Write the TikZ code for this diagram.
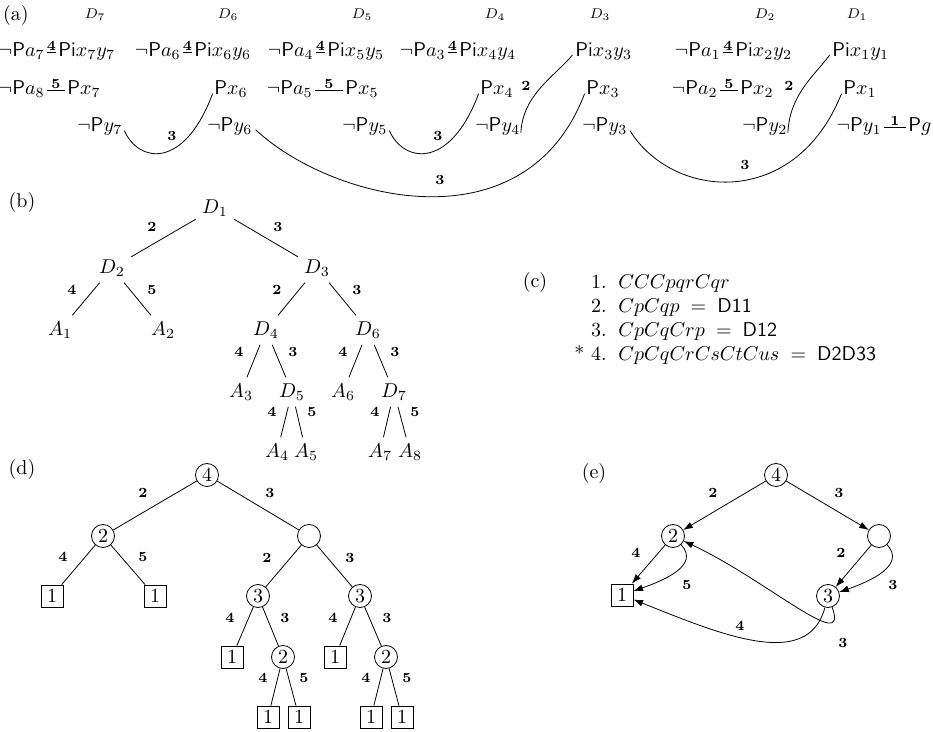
\documentclass[tikz,border=0pt]{standalone}
\usetikzlibrary{arrows.meta}
\begin{document}
\begin{tikzpicture}[x=0.5pt,y=-0.5pt,
  lit/.style={inner sep=0pt, text height=1.6ex, text depth=0.55ex},
  elab/.style={font=\scriptsize\bfseries, inner sep=0.5pt},
  dlab/.style={font=\scriptsize, inner sep=0pt},
  partlab/.style={font=\normalsize, inner sep=0pt},
  tn/.style={inner sep=3pt},
  cn/.style={circle, draw, minimum size=11.5pt, inner sep=0pt},
  bn/.style={draw, minimum size=11pt, inner sep=0pt},
  link/.style={shorten <=1pt, shorten >=1pt},
  curv/.style={shorten <=2pt, shorten >=2pt},
  arr/.style={-{Latex[length=4.8pt,width=3.4pt]}},
  item/.style={inner sep=0pt}
]
\useasboundingbox (0,0) rectangle (933,732);

% ---------------- (a) ----------------
\node[partlab] (la) at (16,16) {(a)};
\node[dlab] (dd7) at (95,15) {$D_7$};
\node[dlab] (dd6) at (228,15) {$D_6$};
\node[dlab] (dd5) at (362,15) {$D_5$};
\node[dlab] (dd4) at (495,15) {$D_4$};
\node[dlab] (dd3) at (600,15) {$D_3$};
\node[dlab] (dd2) at (765,15) {$D_2$};
\node[dlab] (dd1) at (857,15) {$D_1$};

% row 1
\node[lit,anchor=east] (na7) at (45,52) {$\neg\mathsf{P}a_7$};
\node[lit,anchor=west] (pi7) at (58,52) {$\mathsf{Pi}x_7y_7$};
\node[lit,anchor=east] (na6) at (181,52) {$\neg\mathsf{P}a_6$};
\node[lit,anchor=west] (pi6) at (194,52) {$\mathsf{Pi}x_6y_6$};
\node[lit,anchor=east] (na4) at (314,52) {$\neg\mathsf{P}a_4$};
\node[lit,anchor=west] (pi5) at (327,52) {$\mathsf{Pi}x_5y_5$};
\node[lit,anchor=east] (na3) at (446,52) {$\neg\mathsf{P}a_3$};
\node[lit,anchor=west] (pi4) at (459,52) {$\mathsf{Pi}x_4y_4$};
\node[lit,anchor=west] (pi3) at (575,52) {$\mathsf{Pi}x_3y_3$};
\node[lit,anchor=east] (na1) at (721,52) {$\neg\mathsf{P}a_1$};
\node[lit,anchor=west] (pi2) at (735,52) {$\mathsf{Pi}x_2y_2$};
\node[lit,anchor=west] (pi1) at (832,52) {$\mathsf{Pi}x_1y_1$};
\draw[link] (na7) -- node[elab,above] {4} (pi7);
\draw[link] (na6) -- node[elab,above] {4} (pi6);
\draw[link] (na4) -- node[elab,above] {4} (pi5);
\draw[link] (na3) -- node[elab,above] {4} (pi4);
\draw[link] (na1) -- node[elab,above] {4} (pi2);

% row 2
\node[lit,anchor=east] (na8) at (45,90) {$\neg\mathsf{P}a_8$};
\node[lit,anchor=west] (px7) at (67,90) {$\mathsf{P}x_7$};
\node[lit,anchor=west] (px6) at (214,90) {$\mathsf{P}x_6$};
\node[lit,anchor=east] (na5) at (313,90) {$\neg\mathsf{P}a_5$};
\node[lit,anchor=west] (px5) at (345,90) {$\mathsf{P}x_5$};
\node[lit,anchor=west] (px4) at (480,90) {$\mathsf{P}x_4$};
\node[lit,anchor=west] (px3) at (586,90) {$\mathsf{P}x_3$};
\node[lit,anchor=east] (na2) at (718,90) {$\neg\mathsf{P}a_2$};
\node[lit,anchor=west] (px2) at (740,90) {$\mathsf{P}x_2$};
\node[lit,anchor=west] (px1) at (843,90) {$\mathsf{P}x_1$};
\draw[link] (na8) -- node[elab,above] {5} (px7);
\draw[link] (na5) -- node[elab,above] {5} (px5);
\draw[link] (na2) -- node[elab,above] {5} (px2);

% row 3
\node[lit,anchor=west] (ny7) at (77,127) {$\neg\mathsf{P}y_7$};
\node[lit,anchor=west] (ny6) at (207,127) {$\neg\mathsf{P}y_6$};
\node[lit,anchor=west] (ny5) at (342,127) {$\neg\mathsf{P}y_5$};
\node[lit,anchor=west] (ny4) at (475,127) {$\neg\mathsf{P}y_4$};
\node[lit,anchor=west] (ny3) at (582,127) {$\neg\mathsf{P}y_3$};
\node[lit,anchor=west] (ny2) at (742,127) {$\neg\mathsf{P}y_2$};
\node[lit,anchor=east] (ny1) at (882,127) {$\neg\mathsf{P}y_1$};
\node[lit,anchor=west] (pg) at (908,127) {$\mathsf{P}g$};
\draw[link] (ny1) -- node[elab,above] {1} (pg);

% curved links
\draw[curv] (ny7.east) .. controls +(16,36) and +(-30,80) .. (px6.west);
\draw[curv] (ny6.east) .. controls +(78,73) and +(-61,160) .. (px3.west);
\draw[curv] (ny5.east) .. controls +(16,36) and +(-30,80) .. (px4.west);
\draw[curv] (ny4.south east) .. controls +(2,-42) and +(-20,24) .. (pi3.west);
\draw[curv] (ny3.east) .. controls +(45,73) and +(-48,120) .. (px1.west);
\draw[curv] (ny2.south east) .. controls +(2,-42) and +(-18,24) .. (pi1.west);
\node[elab] (ca1) at (172,136) {3};
\node[elab] (ca2) at (440,180) {3};
\node[elab] (ca3) at (438,136) {3};
\node[elab] (ca4) at (526,86) {2};
\node[elab] (ca5) at (745,165) {3};
\node[elab] (ca6) at (789,86) {2};

% ---------------- (b) ----------------
\node[partlab] (lb) at (22,203) {(b)};
\node[tn] (bD1) at (215,208) {$D_1$};
\node[tn] (bD2) at (112,268) {$D_2$};
\node[tn] (bD3) at (317,268) {$D_3$};
\node[tn] (bA1) at (60,330) {$A_1$};
\node[tn] (bA2) at (163,330) {$A_2$};
\node[tn] (bD4) at (266,330) {$D_4$};
\node[tn] (bD6) at (368,330) {$D_6$};
\node[tn] (bA3) at (241,392) {$A_3$};
\node[tn] (bD5) at (292,392) {$D_5$};
\node[tn] (bA6) at (343,392) {$A_6$};
\node[tn] (bD7) at (394,392) {$D_7$};
\node[tn] (bA4) at (277,452) {$A_4$};
\node[tn] (bA5) at (306,452) {$A_5$};
\node[tn] (bA7) at (380,452) {$A_7$};
\node[tn] (bA8) at (410,452) {$A_8$};
\draw (bD1) -- (bD2); \node[elab] (lb1) at (152,227) {2};
\draw (bD1) -- (bD3); \node[elab] (lb2) at (278,227) {3};
\draw (bD2) -- (bA1); \node[elab] (lb3) at (72,290) {4};
\draw (bD2) -- (bA2); \node[elab] (lb4) at (152,290) {5};
\draw (bD3) -- (bD4); \node[elab] (lb5) at (277,290) {2};
\draw (bD3) -- (bD6); \node[elab] (lb6) at (357,290) {3};
\draw (bD4) -- (bA3); \node[elab] (lb7) at (239,352) {4};
\draw (bD4) -- (bD5); \node[elab] (lb8) at (293,352) {3};
\draw (bD6) -- (bA6); \node[elab] (lb9) at (343,352) {4};
\draw (bD6) -- (bD7); \node[elab] (lb10) at (395,352) {3};
\draw (bD5) -- (bA4); \node[elab] (lb11) at (272,412) {4};
\draw (bD5) -- (bA5); \node[elab] (lb12) at (312,412) {5};
\draw (bD7) -- (bA7); \node[elab] (lb13) at (375,412) {4};
\draw (bD7) -- (bA8); \node[elab] (lb14) at (415,412) {5};

% ---------------- (c) ----------------
\node[partlab] (lc) at (535,283) {(c)};
\node[item,anchor=base east] (cn1) at (607,289) {1.};
\node[item,anchor=base west] (cf1) at (618,289) {$CCCpqrCqr$};
\node[item,anchor=base east] (cn2) at (607,313) {2.};
\node[item,anchor=base west] (cf2) at (618,313) {$CpCqp\;=\;\mathsf{D11}$};
\node[item,anchor=base east] (cn3) at (607,337) {3.};
\node[item,anchor=base west] (cf3) at (618,337) {$CpCqCrp\;=\;\mathsf{D12}$};
\node[item,anchor=base east] (cn4) at (607,361) {*\ 4.};
\node[item,anchor=base west] (cf4) at (618,361) {$CpCqCrCsCtCus\;=\;\mathsf{D2D33}$};

% ---------------- (d) ----------------
\node[partlab] (ld) at (22,470) {(d)};
\node[cn] (d4) at (207,475) {4};
\node[cn] (d2) at (103,536) {2};
\node[cn] (de) at (309,536) {};
\node[bn] (db1) at (52,596) {1};
\node[bn] (db2) at (155,596) {1};
\node[cn] (d3a) at (258,596) {3};
\node[cn] (d3b) at (360,596) {3};
\node[bn] (db3) at (232,657) {1};
\node[cn] (d2a) at (283,657) {2};
\node[bn] (db4) at (335,657) {1};
\node[cn] (d2b) at (386,657) {2};
\node[bn] (db5) at (268,717) {1};
\node[bn] (db6) at (299,717) {1};
\node[bn] (db7) at (371,717) {1};
\node[bn] (db8) at (402,717) {1};
\draw (d4) -- (d2);   \node[elab] (ld1) at (143,493) {2};
\draw (d4) -- (de);   \node[elab] (ld2) at (270,493) {3};
\draw (d2) -- (db1);  \node[elab] (ld3) at (63,557) {4};
\draw (d2) -- (db2);  \node[elab] (ld4) at (143,557) {5};
\draw (de) -- (d3a);  \node[elab] (ld5) at (267,558) {2};
\draw (de) -- (d3b);  \node[elab] (ld6) at (350,558) {3};
\draw (d3a) -- (db3); \node[elab] (ld7) at (230,618) {4};
\draw (d3a) -- (d2a); \node[elab] (ld8) at (285,618) {3};
\draw (d3b) -- (db4); \node[elab] (ld9) at (333,618) {4};
\draw (d3b) -- (d2b); \node[elab] (ld10) at (387,618) {3};
\draw (d2a) -- (db5); \node[elab] (ld11) at (263,678) {4};
\draw (d2a) -- (db6); \node[elab] (ld12) at (304,678) {5};
\draw (d2b) -- (db7); \node[elab] (ld13) at (366,678) {4};
\draw (d2b) -- (db8); \node[elab] (ld14) at (407,678) {5};

% ---------------- (e) ----------------
\node[partlab] (le) at (594,474) {(e)};
\node[cn] (e4) at (776,475) {4};
\node[cn] (e2) at (673,536) {2};
\node[cn] (ee) at (879,536) {};
\node[bn] (eb) at (622,595) {1};
\node[cn] (e3) at (828,596) {3};
\draw[arr] (e4) -- (e2);  \node[elab] (le1) at (713,493) {2};
\draw[arr] (e4) -- (ee);  \node[elab] (le2) at (839,493) {3};
\draw[arr] (e2) -- (eb);  \node[elab] (le3) at (636,553) {4};
\draw[arr] (e2) .. controls +(27,29) and +(43,-15) .. (eb); \node[elab] (le4) at (687,585) {5};
\draw[arr] (ee) -- (e3);  \node[elab] (le5) at (841,553) {2};
\draw[arr] (ee) .. controls +(27,29) and +(43,-15) .. (e3); \node[elab] (le6) at (893,585) {3};
\draw[arr] (e3) .. controls +(-20,75) and +(100,40) .. (eb); \node[elab] (le7) at (740,626) {4};
\draw[arr] (e3) .. controls +(22,60) and +(94,44) .. (e2); \node[elab] (le8) at (843,643) {3};
\end{tikzpicture}
\end{document}
